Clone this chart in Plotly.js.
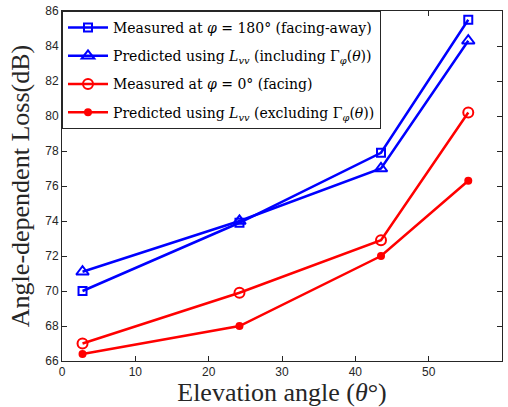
<!DOCTYPE html>
<html>
<head>
<meta charset="utf-8">
<script src="https://cdn.plot.ly/plotly-3.0.1.min.js"></script>
<style>html,body{margin:0;padding:0;background:#fff;}#chart{width:508px;height:407px;}</style>
</head>
<body>
<div id="chart"></div>
<script>
var elevation = [2.8, 24.2, 43.5, 55.4];
var measured180 = [70.0, 73.9, 77.9, 85.5];
var predictedIncl = [71.1, 74.0, 77.0, 84.3];
var measured0 = [67.0, 69.9, 72.9, 80.2];
var predictedExcl = [66.4, 68.0, 72.0, 76.3];
var seriesNames = [
  'Measured at <i>φ</i> = 180° (facing-away)',
  'Predicted using <i>L<sub>vv</sub></i> (including Γ<sub><i>φ</i></sub>(<i>θ</i>))',
  'Measured at <i>φ</i> = 0° (facing)',
  'Predicted using <i>L<sub>vv</sub></i> (excluding Γ<sub><i>φ</i></sub>(<i>θ</i>))'
];
var xTicks = [0, 10, 20, 30, 40, 50, 60];
var yTicks = [66, 68, 70, 72, 74, 76, 78, 80, 82, 84, 86];

var blue = '#0000FF', red = '#FF0000';
var traces = [
  {x: elevation, y: measured180, name: seriesNames[0], legendgroup: 'a', mode: 'lines+markers',
   line: {color: blue, width: 2.5}, marker: {symbol: 'square-open', size: 8, color: blue, line: {width: 2, color: blue}}},
  {x: elevation, y: predictedIncl, name: seriesNames[1], legendgroup: 'b', mode: 'lines+markers',
   line: {color: blue, width: 2.5}, marker: {symbol: 'triangle-up-open', size: 11, color: blue, line: {width: 2, color: blue}}},
  {x: elevation, y: measured0, name: seriesNames[2], legendgroup: 'c', mode: 'lines+markers',
   line: {color: red, width: 2.5}, marker: {symbol: 'circle-open', size: 10, color: red, line: {width: 2, color: red}}},
  {x: elevation, y: predictedExcl, name: seriesNames[3], legendgroup: 'd', mode: 'lines+markers',
   line: {color: red, width: 2.5}, marker: {symbol: 'circle', size: 8, color: red}}
];

var axisCommon = {
  showline: true, linecolor: '#262626', linewidth: 1, mirror: 'ticks',
  ticks: 'inside', ticklen: 5, tickcolor: '#262626', showgrid: false, zeroline: false,
  tickfont: {family: 'Liberation Sans, Arial, sans-serif', size: 12, color: '#262626'}
};

var layout = {
  width: 508, height: 407,
  margin: {l: 62, r: 6, t: 11, b: 46},
  paper_bgcolor: '#fff', plot_bgcolor: '#fff',
  showlegend: true,
  xaxis: Object.assign({}, axisCommon, {
    range: [0, 60], tickvals: xTicks, ticktext: xTicks.map(String),
    title: {text: 'Elevation angle (<i>θ</i>°)', font: {family: 'Liberation Serif, serif', size: 26, color: '#262626'}, standoff: 0}
  }),
  yaxis: Object.assign({}, axisCommon, {
    range: [66, 86], tickvals: yTicks, ticktext: yTicks.map(String),
    title: {text: 'Angle-dependent Loss(dB)', font: {family: 'Liberation Serif, serif', size: 26, color: '#262626'}, standoff: 8}
  }),
  legend: {
    x: 0, y: 1, xanchor: 'left', yanchor: 'top',
    bgcolor: '#fff', bordercolor: '#262626', borderwidth: 1,
    font: {family: 'DejaVu Serif, serif', size: 14, color: '#000'},
    itemwidth: 40, tracegroupgap: 7
  }
};

Plotly.newPlot('chart', traces, layout, {displayModeBar: false, staticPlot: true});
</script>
</body>
</html>
